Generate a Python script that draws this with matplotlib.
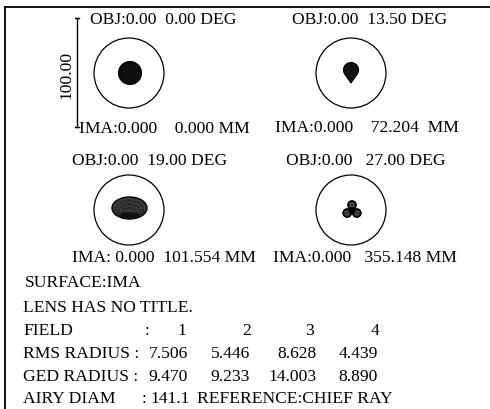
import matplotlib.pyplot as plt
import numpy as np
from matplotlib.patches import Circle, Ellipse, Polygon

plt.rcParams['font.family'] = ['Liberation Serif', 'DejaVu Serif']

# spot diagram summary
fields = [1, 2, 3, 4]
obj_deg = [0.00, 13.50, 19.00, 27.00]
ima_mm = [0.000, 72.204, 101.554, 355.148]
rms_radius = [7.506, 5.446, 8.628, 4.439]
geo_radius = [9.470, 9.233, 14.003, 8.890]
airy_diam = 141.1
scale_bar = 100.00

FS = 12.6

fig = plt.figure(figsize=(4.9, 4.09), dpi=100)
ax = fig.add_axes([0, 0, 1, 1])
ax.set_xlim(0, 490)
ax.set_ylim(409, 0)
ax.axis('off')

# frame (top and left only)
ax.plot([5, 490], [7, 7], color='black', lw=1.3)
ax.plot([5, 5], [7, 409], color='black', lw=1.3)

# panel layout in pixels
centers = [(129, 73), (351, 73), (129, 210), (351, 210)]
obj_pos = [(90, 20), (292, 20), (72, 161), (286, 161)]
ima_pos = [(79, 129), (275, 128), (72, 258), (273, 258)]
obj_fmt = ['OBJ:0.00  {:.2f} DEG', 'OBJ:0.00  {:.2f} DEG',
           'OBJ:0.00  {:.2f} DEG', 'OBJ:0.00   {:.2f} DEG']
ima_fmt = ['IMA:0.000    {:.3f} MM', 'IMA:0.000    {:.3f}  MM',
           'IMA: 0.000  {:.3f} MM', 'IMA:0.000   {:.3f} MM']

for i in range(4):
    cx, cy = centers[i]
    ax.add_patch(Circle((cx, cy), 35, fill=False, ec='black', lw=0.9))
    ax.text(*obj_pos[i], obj_fmt[i].format(obj_deg[i]), fontsize=FS,
            ha='left', va='center')
    ax.text(*ima_pos[i], ima_fmt[i].format(ima_mm[i]), fontsize=FS,
            ha='left', va='center')

# field 1: round spot
cx, cy = centers[0]
ax.add_patch(Circle((cx + 1, cy), 11.5, fc='#0d0d0d', ec='black', lw=0.8))
for r in [4, 7]:
    ax.add_patch(Circle((cx + 1, cy), r, fill=False, ec='#3a3a3a', lw=0.3, ls=':'))

# field 2: teardrop pointing down
cx, cy = centers[1]
c = np.array([cx, cy - 3.0])
r = 7.5
tip = np.array([cx, cy + 10.0])
half = np.degrees(np.arccos(r / np.linalg.norm(tip - c)))
ang = np.radians(np.linspace(90 + half, 450 - half, 60))
pts = np.column_stack([c[0] + r * np.cos(ang), c[1] + r * np.sin(ang)])
pts = np.vstack([tip, pts])
ax.add_patch(Polygon(pts, closed=True, fc='#121212', ec='black', lw=0.8))

# field 3: flattened elliptical spot, denser toward the bottom
cx, cy = centers[2]
ax.add_patch(Ellipse((cx + 0.5, cy - 2), 35, 22, fc='#383838', ec='black', lw=1.0))
for s in [0.8, 0.6, 0.4]:
    ax.add_patch(Ellipse((cx + 0.5, cy - 2 + 7 * (1 - s)), 35 * s, 22 * s,
                         fill=False, ec='#0a0a0a', lw=0.8, ls=':'))
ax.add_patch(Ellipse((cx + 0.5, cy + 5.5), 20, 7, fc='#111111', ec='none'))

# field 4: three-lobed spot
cx, cy = centers[3]
lobes = [(cx + 1, cy - 5), (cx - 3.8, cy + 3), (cx + 5.8, cy + 3)]
for lx, ly in lobes:
    ax.add_patch(Circle((lx, ly), 4.2, fc='#2a2a2a', ec='black', lw=1.0))
    ax.add_patch(Circle((lx, ly), 1.8, fill=False, ec='#666666', lw=0.5))
ax.add_patch(Circle((cx + 1, cy + 0.5), 3.5, fc='black', ec='none'))

# scale bar
ax.plot([77, 77], [18, 127], color='black', lw=1.0)
ax.plot([75, 79], [18, 18], color='black', lw=1.0)
ax.plot([75, 79], [127, 127], color='black', lw=1.0)
ax.text(66, 75, '{:.2f}'.format(scale_bar), fontsize=FS, rotation=90,
        ha='center', va='center')

# summary block
ax.text(25, 283, 'SURFACE:IMA', fontsize=FS, va='center')
ax.text(23, 308, 'LENS HAS NO TITLE.', fontsize=FS, va='center')

ax.text(23, 331, 'FIELD', fontsize=FS, va='center')
ax.text(147, 331, ':', fontsize=FS, va='center', ha='center')
ax.text(23, 354, 'RMS RADIUS :', fontsize=FS, va='center')
ax.text(23, 377, 'GED RADIUS :', fontsize=FS, va='center')

field_x = [186, 251, 314, 379]
value_x = [188, 250, 317, 378]
for j in range(4):
    ax.text(field_x[j], 331, str(fields[j]), fontsize=FS, va='center', ha='right')
    ax.text(value_x[j], 354, '{:.3f}'.format(rms_radius[j]), fontsize=FS,
            va='center', ha='right')
    ax.text(value_x[j], 377, '{:.3f}'.format(geo_radius[j]), fontsize=FS,
            va='center', ha='right')

ax.text(23, 399, 'AIRY DIAM', fontsize=FS, va='center')
ax.text(142, 399, ':', fontsize=FS, va='center')
ax.text(150, 399, '{:.1f}'.format(airy_diam), fontsize=FS, va='center', ha='left')
ax.text(197, 399, 'REFERENCE:CHIEF RAY', fontsize=FS, va='center')

fig.savefig('out.png', dpi=100)
